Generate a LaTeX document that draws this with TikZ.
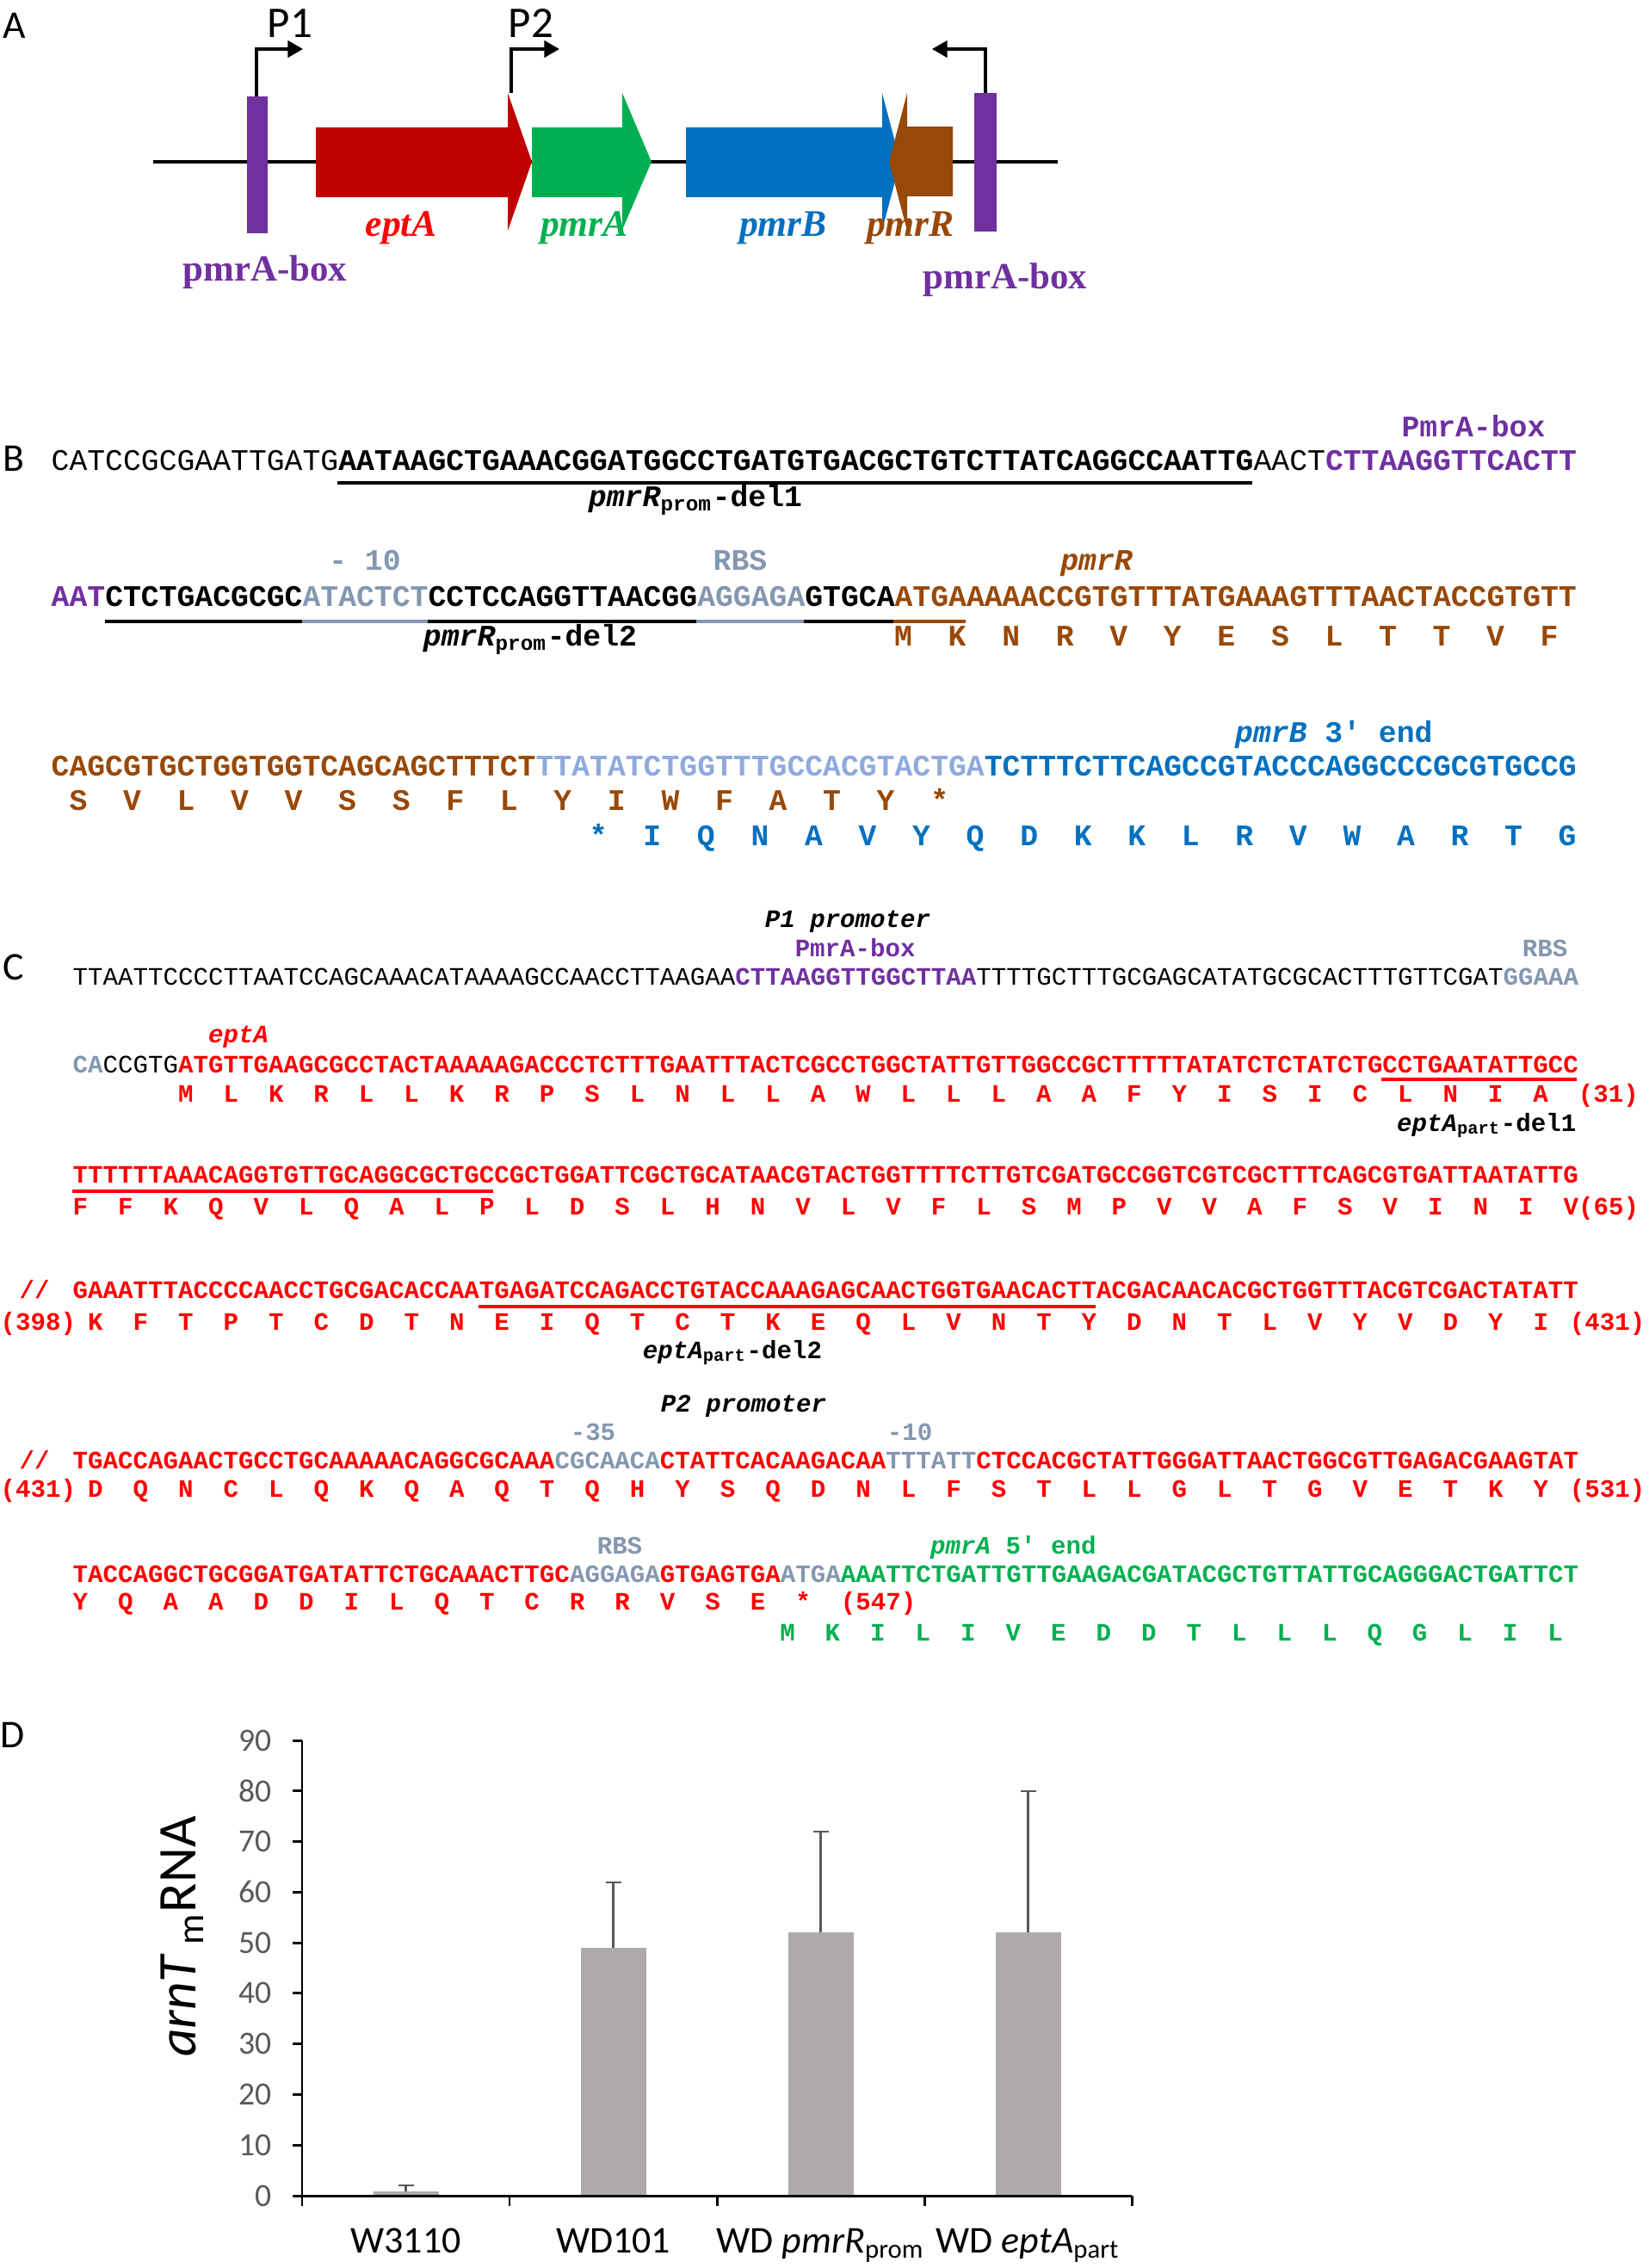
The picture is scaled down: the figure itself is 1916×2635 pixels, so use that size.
\documentclass[tikz,border=0pt]{standalone}
\usepackage{fontspec}
\setmainfont{Liberation Serif}
\newfontfamily\seqfont{Liberation Mono}
\newfontfamily\calfont{Carlito}
\usetikzlibrary{arrows.meta}

\definecolor{boxpurple}{HTML}{7030A0}
\definecolor{eptred}{HTML}{C00000}
\definecolor{seqred}{HTML}{FF0000}
\definecolor{pmragreen}{HTML}{00B050}
\definecolor{pmrbblue}{HTML}{0070C0}
\definecolor{pmrrbrown}{HTML}{984807}
\definecolor{motifgray}{HTML}{8497B0}
\definecolor{lightblue}{HTML}{8FAADC}
\definecolor{bargray}{HTML}{AEAAAA}
\definecolor{errgray}{HTML}{595959}

\tikzset{
  panel/.style={font=\calfont\fontsize{13}{15}\selectfont, inner sep=0pt},
  promlabel/.style={font=\calfont\fontsize{14.5}{16}\selectfont, inner sep=0pt},
  genelabel/.style={font=\fontsize{12.4}{14}\selectfont\bfseries\itshape, inner sep=0pt},
  boxlabel/.style={font=\fontsize{12.2}{14}\selectfont\bfseries, text=boxpurple, inner sep=0pt},
  prom/.style={line width=0.9pt, -{Triangle[length=5pt,width=5.5pt]}},
  backbone/.style={line width=1.1pt},
  seqB/.style={font=\seqfont\fontsize{9.88}{12}\selectfont, inner sep=0pt, anchor=base west},
  seqC/.style={font=\seqfont\fontsize{8.29}{10}\selectfont, inner sep=0pt, anchor=base west},
  ulB/.style={line width=1.4pt},
  ulC/.style={line width=1.3pt},
  ticklab/.style={font=\calfont\fontsize{10.7}{12}\selectfont, text=errgray, inner sep=0pt, anchor=east},
  catlab/.style={font=\calfont\fontsize{12.5}{14}\selectfont, inner sep=0pt, anchor=base},
  axis/.style={line width=0.85pt},
  errbar/.style={line width=0.6pt, errgray}
}

\begin{document}
\begin{tikzpicture}[x=0.01cm, y=-0.01cm]
  \useasboundingbox (0,0) rectangle (1916,2635);
  \def\xB{59}  \def\cwB{20.84}
  \def\xC{84}  \def\cwC{17.48}
  \def\ybase{2551} \def\yunit{5.878}

  % panel A: gene map
  \node[panel] (labA) at (17,30) {A};
  \draw[backbone] (178,188) -- (1229,188);
  \fill[boxpurple] (287,112) rectangle (311,271);
  \fill[pmragreen] (618,148) -- (723,148) -- (723,108) -- (757,188) -- (723,267) -- (723,229) -- (618,229) -- cycle;
  \fill[eptred] (367,148) -- (590,148) -- (590,108) -- (618,188) -- (590,268) -- (590,229) -- (367,229) -- cycle;
  \fill[pmrbblue] (797,148) -- (1025,148) -- (1025,108) -- (1046,188) -- (1025,267) -- (1025,229) -- (797,229) -- cycle;
  \fill[pmrrbrown] (1107,147) -- (1054,147) -- (1054,108) -- (1033,188) -- (1054,268) -- (1054,228) -- (1107,228) -- cycle;
  \fill[boxpurple] (1132,108) rectangle (1158,269);
  \coordinate (p1base) at (298,112);
  \coordinate (p2base) at (594,108);
  \coordinate (rbase) at (1145,108);
  \draw[prom] (p1base) |- (352,57);
  \draw[prom] (p2base) |- (650,57);
  \draw[prom] (rbase) |- (1083,57);
  \node[promlabel] (p1) at (337,27) {P1};
  \node[promlabel] (p2) at (617,27) {P2};
  \node[genelabel, text=seqred] (gepta) at (466,265) {eptA};
  \node[genelabel, text=pmragreen] (gpmra) at (679,265) {pmrA};
  \node[genelabel, text=pmrbblue] (gpmrb) at (910,265) {pmrB};
  \node[genelabel, text=pmrrbrown] (gpmrr) at (1058,265) {pmrR};
  \node[boxlabel] (boxl) at (308,316) {pmrA-box};
  \node[boxlabel] (boxr) at (1168,325) {pmrA-box};

  % panel B: pmrR region
  \node[panel] (labB) at (16,533) {B};
  \node[seqB, anchor=base] (bbox) at (1712,507) {\textbf{\textcolor{boxpurple}{PmrA-box}}};
  \node[seqB] (bseq1) at (\xB,546) {CATCCGCGAATTGATG\textbf{AATAAGCTGAAACGGATGGCCTGATGTGACGCTGTCTTATCAGGCCAATTG}AACT\textbf{\textcolor{boxpurple}{CTTAAGGTTCACTT}}};
  \draw[ulB] (\xB+16*\cwB,561) -- (\xB+67*\cwB,561);
  \node[seqB, anchor=base] (bdel1) at (808,588) {\textbf{\textit{pmrR}\textsubscript{prom}-del1}};

  \node[seqB, anchor=base] (bm10) at (424,662) {\textbf{\textcolor{motifgray}{- 10}}};
  \node[seqB, anchor=base] (brbs) at (860,662) {\textbf{\textcolor{motifgray}{RBS}}};
  \node[seqB, anchor=base] (bpmrr) at (1274,662) {\textbf{\textit{\textcolor{pmrrbrown}{pmrR}}}};
  \node[seqB] (bseq2) at (\xB,704) {\textbf{\textcolor{boxpurple}{AAT}CTCTGACGCGC\textcolor{motifgray}{ATACTCT}CCTCCAGGTTAACGG\textcolor{motifgray}{AGGAGA}GTGCA\textcolor{pmrrbrown}{ATGAAAAACCGTGTTTATGAAAGTTTAACTACCGTGTT}}};
  \draw[ulB] (\xB+3*\cwB,722) -- (\xB+14*\cwB,722);
  \draw[ulB, motifgray] (\xB+14*\cwB,722) -- (\xB+21*\cwB,722);
  \draw[ulB] (\xB+21*\cwB,722) -- (\xB+36*\cwB,722);
  \draw[ulB, motifgray] (\xB+36*\cwB,722) -- (\xB+42*\cwB,722);
  \draw[ulB] (\xB+42*\cwB,722) -- (\xB+47*\cwB,722);
  \draw[ulB, pmrrbrown] (\xB+47*\cwB,722) -- (\xB+51*\cwB,722);
  \node[seqB] (baa1) at (\xB+47*\cwB,750) {\textbf{\textcolor{pmrrbrown}{M~~K~~N~~R~~V~~Y~~E~~S~~L~~T~~T~~V~~F}}};
  \node[seqB, anchor=base] (bdel2) at (616,750) {\textbf{\textit{pmrR}\textsubscript{prom}-del2}};

  \node[seqB] (bpmrb) at (\xB+66*\cwB,862) {\textbf{\textcolor{pmrbblue}{\textit{pmrB} 3' end}}};
  \node[seqB] (bseq3) at (\xB,901) {\textbf{\textcolor{pmrrbrown}{CAGCGTGCTGGTGGTCAGCAGCTTTCT}\textcolor{lightblue}{TTATATCTGGTTTGCCACGTACTGA}\textcolor{pmrbblue}{TCTTTCTTCAGCCGTACCCAGGCCCGCGTGCCG}}};
  \node[seqB] (baa2) at (\xB+\cwB,941) {\textbf{\textcolor{pmrrbrown}{S~~V~~L~~V~~V~~S~~S~~F~~L~~Y~~I~~W~~F~~A~~T~~Y~~*}}};
  \node[seqB] (baa3) at (\xB+30*\cwB,982) {\textbf{\textcolor{pmrbblue}{*~~I~~Q~~N~~A~~V~~Y~~Q~~D~~K~~K~~L~~R~~V~~W~~A~~R~~T~~G}}};

  % panel C: eptA region
  \node[panel] (labC) at (16,1124) {C};
  \node[seqC] (cp1) at (\xC+46*\cwC,1077) {\textbf{\textit{P1 promoter}}};
  \node[seqC] (cbox) at (\xC+48*\cwC,1111) {\textbf{\textcolor{boxpurple}{PmrA-box}}};
  \node[seqC, anchor=base] (crbs1) at (1795,1111) {\textbf{\textcolor{motifgray}{RBS}}};
  \node[seqC] (cseq1) at (\xC,1144) {TTAATTCCCCTTAATCCAGCAAACATAAAAGCCAACCTTAAGAA\textbf{\textcolor{boxpurple}{CTTAAGGTTGGCTTAA}}TTTTGCTTTGCGAGCATATGCGCACTTTGTTCGAT\textbf{\textcolor{motifgray}{GGAAA}}};

  \node[seqC] (cepta) at (\xC+9*\cwC,1211) {\textbf{\textit{\textcolor{seqred}{eptA}}}};
  \node[seqC] (cseq2) at (\xC,1246) {\textbf{\textcolor{motifgray}{CA}}CCGTG\textbf{\textcolor{seqred}{ATGTTGAAGCGCCTACTAAAAAGACCCTCTTTGAATTTACTCGCCTGGCTATTGTTGGCCGCTTTTTATATCTCTATCTGCCTGAATATTGCC}}};
  \draw[ulC, seqred] (\xC+87*\cwC,1254) -- (\xC+100*\cwC,1254);
  \node[seqC] (caa2) at (\xC+7*\cwC,1280) {\textbf{\textcolor{seqred}{M~~L~~K~~R~~L~~L~~K~~R~~P~~S~~L~~N~~L~~L~~A~~W~~L~~L~~L~~A~~A~~F~~Y~~I~~S~~I~~C~~L~~N~~I~~A~~(31)}}};
  \node[seqC, anchor=base east] (cdel1) at (1832,1314) {\textbf{\textit{eptA}\textsubscript{part}-del1}};

  \node[seqC] (cseq3) at (\xC,1374) {\textbf{\textcolor{seqred}{TTTTTTAAACAGGTGTTGCAGGCGCTGCCGCTGGATTCGCTGCATAACGTACTGGTTTTCTTGTCGATGCCGGTCGTCGCTTTCAGCGTGATTAATATTG}}};
  \draw[ulC, seqred] (\xC,1384) -- (\xC+28*\cwC,1384);
  \node[seqC] (caa3) at (\xC,1411) {\textbf{\textcolor{seqred}{F~~F~~K~~Q~~V~~L~~Q~~A~~L~~P~~L~~D~~S~~L~~H~~N~~V~~L~~V~~F~~L~~S~~M~~P~~V~~V~~A~~F~~S~~V~~I~~N~~I~~V(65)}}};

  \node[seqC] (cgap4) at (22,1508) {\textbf{\textcolor{seqred}{//}}};
  \node[seqC] (cseq4) at (\xC,1508) {\textbf{\textcolor{seqred}{GAAATTTACCCCAACCTGCGACACCAATGAGATCCAGACCTGTACCAAAGAGCAACTGGTGAACACTTACGACAACACGCTGGTTTACGTCGACTATATT}}};
  \draw[ulC, seqred] (\xC+27*\cwC,1518) -- (\xC+68*\cwC,1518);
  \node[seqC] (cn398) at (0,1545) {\textbf{\textcolor{seqred}{(398)}}};
  \node[seqC] (caa4) at (\xC+\cwC,1545) {\textbf{\textcolor{seqred}{K~~F~~T~~P~~T~~C~~D~~T~~N~~E~~I~~Q~~T~~C~~T~~K~~E~~Q~~L~~V~~N~~T~~Y~~D~~N~~T~~L~~V~~Y~~V~~D~~Y~~I}}};
  \node[seqC, anchor=base east] (cn431a) at (1912,1545) {\textbf{\textcolor{seqred}{(431)}}};
  \node[seqC, anchor=base] (cdel2) at (851,1578) {\textbf{\textit{eptA}\textsubscript{part}-del2}};

  \node[seqC, anchor=base] (cp2) at (864,1640) {\textbf{\textit{P2 promoter}}};
  \node[seqC, anchor=base] (cm35) at (689,1673) {\textbf{\textcolor{motifgray}{-35}}};
  \node[seqC, anchor=base] (cm10) at (1057,1673) {\textbf{\textcolor{motifgray}{-10}}};
  \node[seqC] (cgap5) at (22,1706) {\textbf{\textcolor{seqred}{//}}};
  \node[seqC] (cseq5) at (\xC,1706) {\textbf{\textcolor{seqred}{TGACCAGAACTGCCTGCAAAAACAGGCGCAAA}\textcolor{motifgray}{CGCAACA}\textcolor{seqred}{CTATTCACAAGACAA}\textcolor{motifgray}{TTTATT}\textcolor{seqred}{CTCCACGCTATTGGGATTAACTGGCGTTGAGACGAAGTAT}}};
  \node[seqC] (cn431b) at (0,1739) {\textbf{\textcolor{seqred}{(431)}}};
  \node[seqC] (caa5) at (\xC+\cwC,1739) {\textbf{\textcolor{seqred}{D~~Q~~N~~C~~L~~Q~~K~~Q~~A~~Q~~T~~Q~~H~~Y~~S~~Q~~D~~N~~L~~F~~S~~T~~L~~L~~G~~L~~T~~G~~V~~E~~T~~K~~Y}}};
  \node[seqC, anchor=base east] (cn531) at (1912,1739) {\textbf{\textcolor{seqred}{(531)}}};

  \node[seqC, anchor=base] (crbs2) at (720,1805) {\textbf{\textcolor{motifgray}{RBS}}};
  \node[seqC] (cpmra) at (\xC+57*\cwC,1805) {\textbf{\textcolor{pmragreen}{\textit{pmrA} 5' end}}};
  \node[seqC] (cseq6) at (\xC,1838) {\textbf{\textcolor{seqred}{TACCAGGCTGCGGATGATATTCTGCAAACTTGC}\textcolor{motifgray}{AGGAGA}\textcolor{seqred}{GTGAGTGA}\textcolor{motifgray}{ATGA}\textcolor{pmragreen}{AAATTCTGATTGTTGAAGACGATACGCTGTTATTGCAGGGACTGATTCT}}};
  \node[seqC] (caa6) at (\xC,1870) {\textbf{\textcolor{seqred}{Y~~Q~~A~~A~~D~~D~~I~~L~~Q~~T~~C~~R~~R~~V~~S~~E~~*~~(547)}}};
  \node[seqC] (caa7) at (\xC+47*\cwC,1906) {\textbf{\textcolor{pmragreen}{M~~K~~I~~L~~I~~V~~E~~D~~D~~T~~L~~L~~L~~Q~~G~~L~~I~~L}}};

  % panel D: arnT mRNA levels
  \node[panel] (labD) at (15,2016) {D};
  \foreach \cx/\v/\e in {471.5/0.8/2, 712.5/49/62, 953.5/52/72, 1194.5/52/80} {
    \fill[bargray] (\cx-38,\ybase) rectangle (\cx+38,\ybase-\v*\yunit);
    \draw[errbar] (\cx,\ybase-\v*\yunit) -- (\cx,\ybase-\e*\yunit);
    \draw[errbar] (\cx-9,\ybase-\e*\yunit) -- (\cx+9,\ybase-\e*\yunit);
  }
  \draw[axis] (351,2022) -- (351,\ybase) -- (1315,\ybase);
  \foreach \v in {0,10,...,90} {
    \draw[axis] (340,\ybase-\v*\yunit) -- (351,\ybase-\v*\yunit);
    \node[ticklab] (tick\v) at (316,\ybase-\v*\yunit) {\v};
  }
  \foreach \k in {0,...,4}
    \draw[axis] (351+\k*241,\ybase) -- (351+\k*241,\ybase+12);
  \node[catlab] (cw3110) at (471.5,2617) {W3110};
  \node[catlab] (cwd101) at (712.5,2617) {WD101};
  \node[catlab] (cwdpmrr) at (953.5,2617) {WD \textit{pmrR}\textsubscript{prom}};
  \node[catlab] (cwdepta) at (1194.5,2617) {WD \textit{eptA}\textsubscript{part}};
  \node[rotate=90, font=\calfont\fontsize{18}{20}\selectfont, inner sep=0pt] (ylab) at (212,2250) {\textit{arnT}\,\textsubscript{m}RNA};
\end{tikzpicture}
\end{document}
